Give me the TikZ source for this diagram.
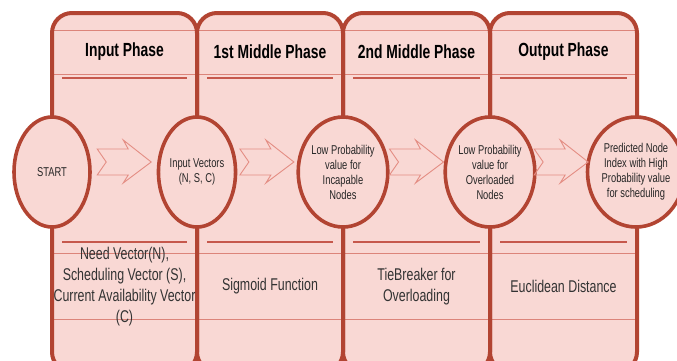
\documentclass[tikz,border=0pt]{standalone}
\usepackage{fontspec}
\setmainfont{Liberation Sans}[FakeStretch=0.73]
\usetikzlibrary{shapes.geometric,calc}

\definecolor{lanefill}{RGB}{249,216,212}
\definecolor{rim}{RGB}{178,68,50}
\definecolor{ruleline}{RGB}{198,88,76}
\definecolor{bandline}{RGB}{220,132,122}
\definecolor{chevline}{RGB}{228,142,132}

\tikzset{
  chev/.pic = {
    \draw[chevline,line width=0.9pt] (-27,-13) -- (4,-13) -- (-1,-22) -- (27,0)
      -- (-1,21) -- (4,13) -- (-27,13) -- (-18,0) -- cycle;
  }
}

\begin{document}
\begin{tikzpicture}[x=1pt,y=-1pt,
  lane/.style = {draw=rim,line width=4pt,rounded corners=20pt},
  band/.style = {draw=bandline,line width=0.8pt},
  rule/.style = {draw=ruleline,line width=1.6pt},
  title/.style = {font=\fontsize{19}{22}\selectfont\bfseries},
  note/.style = {font=\fontsize{17}{21}\selectfont,text=black!80,align=center},
  state/.style = {draw=rim,fill=lanefill,ellipse,line width=3.6pt,
    minimum width=76pt,minimum height=110pt,inner sep=0pt,align=center,
    text=black!85,font=\fontsize{12.8}{15}\selectfont}]

\useasboundingbox (0,0) rectangle (677,360);

% phase lanes
\foreach \l/\r in {52/197,197/343,343/490,490/637} {
  \fill[lanefill,rounded corners=20pt] (\l,13) rectangle (\r,372);
  \draw[band] (\l,30) rectangle (\r,74);
  \draw[band] (\l,253) rectangle (\r,319);
  \draw[rule] (\l+10,78) -- (\r-10,78);
  \draw[rule] (\l+10,242) -- (\r-10,242);
}
\foreach \l/\r in {52/197,197/343,343/490,490/637}
  \draw[lane] (\l,13) rectangle (\r,372);

\node[title] (h1) at (124.5,52) {Input Phase};
\node[title] (h2) at (270,52) {1st Middle Phase};
\node[title] (h3) at (416.5,52) {2nd Middle Phase};
\node[title] (h4) at (563.5,52) {Output Phase};

% states
\node[state] (start) at (52,172) {START};
\node[state] (vec) at (197,172) {Input Vectors\\(N, S, C)};
\node[state] (incap) at (343,172) {Low Probability\\value for\\Incapable\\Nodes};
\node[state] (over) at (490,172) {Low Probability\\value for\\Overloaded\\Nodes};
\node[state] (pred) at (636,172) {Predicted Node\\Index with High\\Probability value\\for scheduling};

\pic at ($(start.east)!.5!(vec.west)+(0,-10)$) {chev};
\pic at ($(vec.east)!.5!(incap.west)+(0,-10)$) {chev};
\pic at ($(incap.east)!.5!(over.west)+(0,-10)$) {chev};
\pic at ($(over.east)!.5!(pred.west)+(0,-10)$) {chev};

% methods
\node[note] (n1) at (124.5,286.5) {Need Vector(N),\\Scheduling Vector (S),\\Current Availability Vector\\(C)};
\node[note] (n2) at (270,286) {Sigmoid Function};
\node[note] (n3) at (416.5,286.5) {TieBreaker for\\Overloading};
\node[note] (n4) at (563.5,286) {Euclidean Distance};

\end{tikzpicture}
\end{document}
